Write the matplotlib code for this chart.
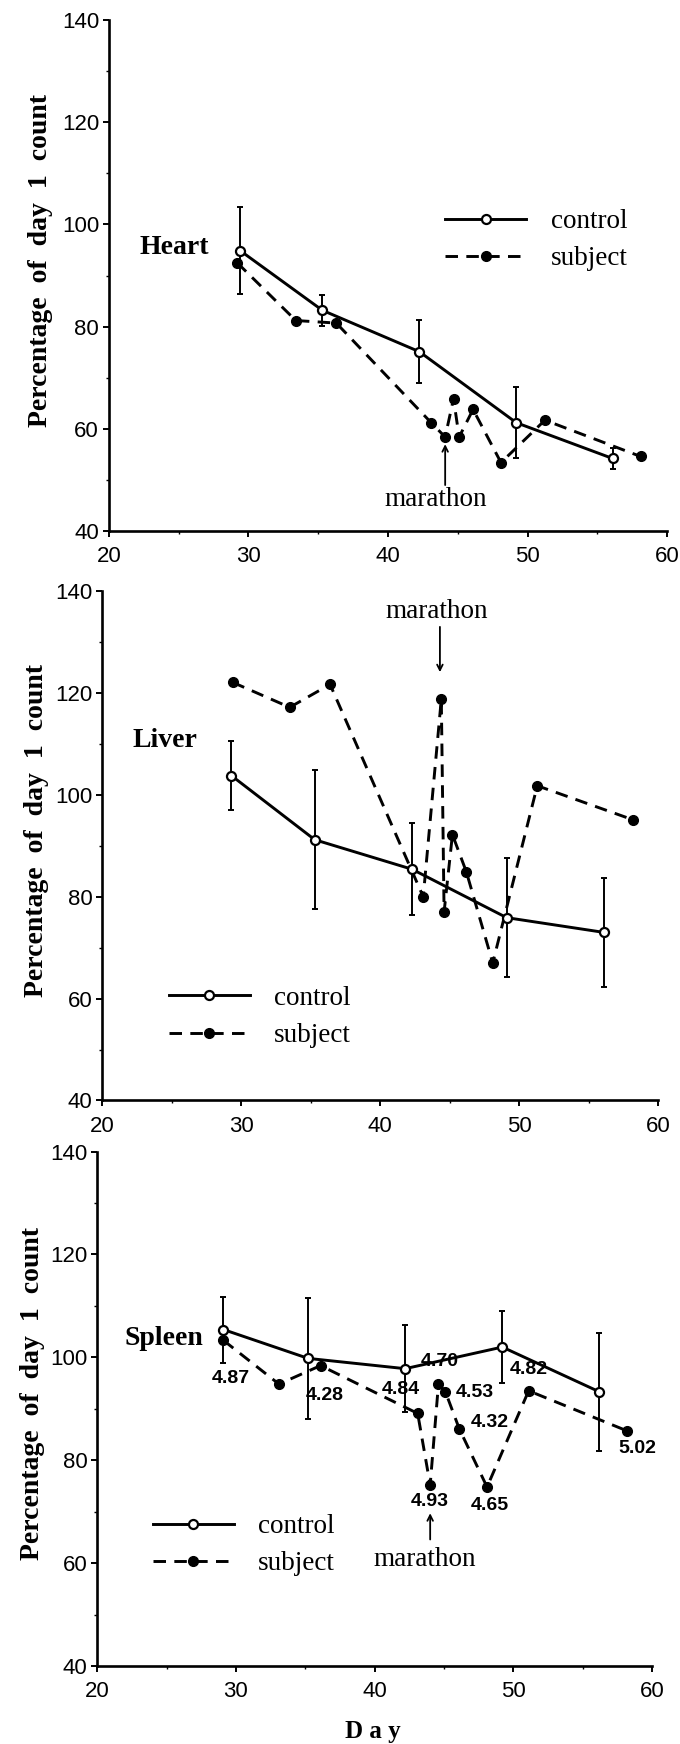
import matplotlib
matplotlib.use("Agg")
import matplotlib.pyplot as plt
from matplotlib.ticker import MultipleLocator

plt.rcParams['lines.scale_dashes'] = False

# ---- data ----
ctrl_days_heart = [29.4, 35.3, 42.25, 49.2, 56.1]
ctrl_heart = [94.9, 83.2, 75.1, 61.2, 54.2]
ctrl_err_heart = [8.5, 3.0, 6.2, 7.0, 2.0]
subj_days_heart = [29.2, 33.4, 36.3, 43.1, 44.1, 44.7, 45.1, 46.1, 48.1, 51.25, 58.1]
subj_heart = [92.5, 81.2, 80.7, 61.2, 58.4, 65.9, 58.4, 63.8, 53.4, 61.7, 54.6]

ctrl_days_liver = [29.3, 35.3, 42.3, 49.1, 56.1]
ctrl_liver = [103.8, 91.2, 85.4, 75.9, 73.0]
ctrl_err_liver = [6.7, 13.6, 9.0, 11.7, 10.7]
subj_days_liver = [29.4, 33.5, 36.4, 43.1, 44.4, 44.6, 45.2, 46.2, 48.1, 51.3, 58.2]
subj_liver = [122.1, 117.2, 121.7, 80.0, 118.8, 77.0, 92.2, 84.9, 67.0, 101.8, 95.1]

ctrl_days_spleen = [29.1, 35.2, 42.2, 49.2, 56.2]
ctrl_spleen = [105.4, 99.8, 97.8, 102.0, 93.3]
ctrl_err_spleen = [6.4, 11.8, 8.4, 7.0, 11.5]
subj_days_spleen = [29.1, 33.1, 36.1, 43.1, 44.0, 44.6, 45.1, 46.1, 48.1, 51.1, 58.2]
subj_spleen = [103.3, 94.8, 98.4, 89.1, 75.2, 94.9, 93.3, 86.1, 74.8, 93.5, 85.7]

# numbers printed next to the spleen points
spleen_notes = ["4.87", "4.28", "4.84", "4.70", "4.53", "4.32", "4.82", "5.02", "4.93", "4.65"]
spleen_note_x = [29.6, 36.4, 41.9, 44.7, 47.2, 48.3, 51.1, 58.9, 44.0, 48.3]
spleen_note_y = [95.9, 92.6, 93.7, 99.2, 93.1, 87.3, 97.6, 82.2, 72.0, 71.2]

SERIF = 'Liberation Serif'
SANS = 'Liberation Sans'

fig = plt.figure(figsize=(6.8, 17.44), dpi=100)

panels = [
    dict(rect=[0.160, 0.6955, 0.821, 0.293], name="Heart", name_xy=(24.7, 95.5),
         cd=ctrl_days_heart, cv=ctrl_heart, ce=ctrl_err_heart,
         sd=subj_days_heart, sv=subj_heart,
         leg=(0.602, 0.63), ylab_x=-0.10,
         mtext=(43.4, 46.1), arrow=((44.1, 57.0), (44.1, 49.0))),
    dict(rect=[0.150, 0.369, 0.818, 0.292], name="Liver", name_xy=(24.5, 110.7),
         cd=ctrl_days_liver, cv=ctrl_liver, ce=ctrl_err_liver,
         sd=subj_days_liver, sv=subj_liver,
         leg=(0.12, 0.225), ylab_x=-0.095,
         mtext=(44.1, 136.0), arrow=((44.3, 124.1), (44.3, 133.0))),
    dict(rect=[0.143, 0.0447, 0.816, 0.295], name="Spleen", name_xy=(24.8, 103.7),
         cd=ctrl_days_spleen, cv=ctrl_spleen, ce=ctrl_err_spleen,
         sd=subj_days_spleen, sv=subj_spleen,
         leg=(0.10, 0.295), ylab_x=-0.095,
         mtext=(43.6, 60.7), arrow=((44.0, 69.7), (44.0, 64.6))),
]

for i, p in enumerate(panels):
    ax = fig.add_axes(p["rect"])

    # control: solid line, open circles, error bars
    ax.errorbar(p["cd"], p["cv"], yerr=p["ce"], fmt='none', ecolor='black',
                elinewidth=1.4, capsize=2, capthick=1.4, zorder=2)
    ctrl_line, = ax.plot(p["cd"], p["cv"], '-', color='black', lw=2.1,
                         marker='o', ms=6.5, mfc='white', mec='black', mew=1.6,
                         label='control', zorder=4)
    # subject: dashed line, filled circles
    subj_line, = ax.plot(p["sd"], p["sv"], color='black', lw=2.1, dashes=(9, 6),
                         marker='o', ms=7, mfc='black', mec='black',
                         label='subject', zorder=3)

    ax.set_xlim(20, 60)
    ax.set_ylim(40, 140)
    ax.xaxis.set_major_locator(MultipleLocator(10))
    ax.xaxis.set_minor_locator(MultipleLocator(5))
    ax.yaxis.set_major_locator(MultipleLocator(20))
    ax.yaxis.set_minor_locator(MultipleLocator(10))
    ax.spines['top'].set_visible(False)
    ax.spines['right'].set_visible(False)
    for s in ('left', 'bottom'):
        ax.spines[s].set_linewidth(1.9)
    ax.tick_params(which='major', direction='out', length=4, width=1.4, pad=3)
    ax.tick_params(which='minor', direction='out', length=2, width=1.0)
    ax.tick_params(axis='x', pad=7)
    for lab in ax.get_xticklabels() + ax.get_yticklabels():
        lab.set_family(SANS)
        lab.set_fontsize(16)

    ax.set_ylabel("Percentage  of  day  1  count", fontsize=20, fontweight='bold',
                  family=SERIF)
    ax.yaxis.set_label_coords(p["ylab_x"], 0.53)

    ax.text(p["name_xy"][0], p["name_xy"][1], p["name"], fontsize=20,
            fontweight='bold', family=SERIF, ha='center', va='center')

    ax.annotate('', xy=p["arrow"][0], xytext=p["arrow"][1],
                arrowprops=dict(arrowstyle='->', lw=1.3, color='black',
                                shrinkA=0, shrinkB=0))
    ax.text(p["mtext"][0], p["mtext"][1], "marathon", fontsize=19.5, family=SERIF,
            ha='center', va='center')

    ax.legend(handles=[ctrl_line, subj_line], loc='upper left',
              bbox_to_anchor=p["leg"], frameon=False, numpoints=1,
              handlelength=3.0, handletextpad=0.9, borderpad=0, borderaxespad=0,
              labelspacing=0.45, prop={'family': SERIF, 'size': 19.5})

    if p["name"] == "Spleen":
        for t, x, y in zip(spleen_notes, spleen_note_x, spleen_note_y):
            ax.text(x, y, t, fontsize=14, fontweight='bold', family=SANS,
                    ha='center', va='center')
        ax.set_xlabel("D a y", fontsize=18, fontweight='bold', family=SERIF)
        ax.xaxis.set_label_coords(0.497, -0.105)

fig.savefig("out.png", dpi=100)
